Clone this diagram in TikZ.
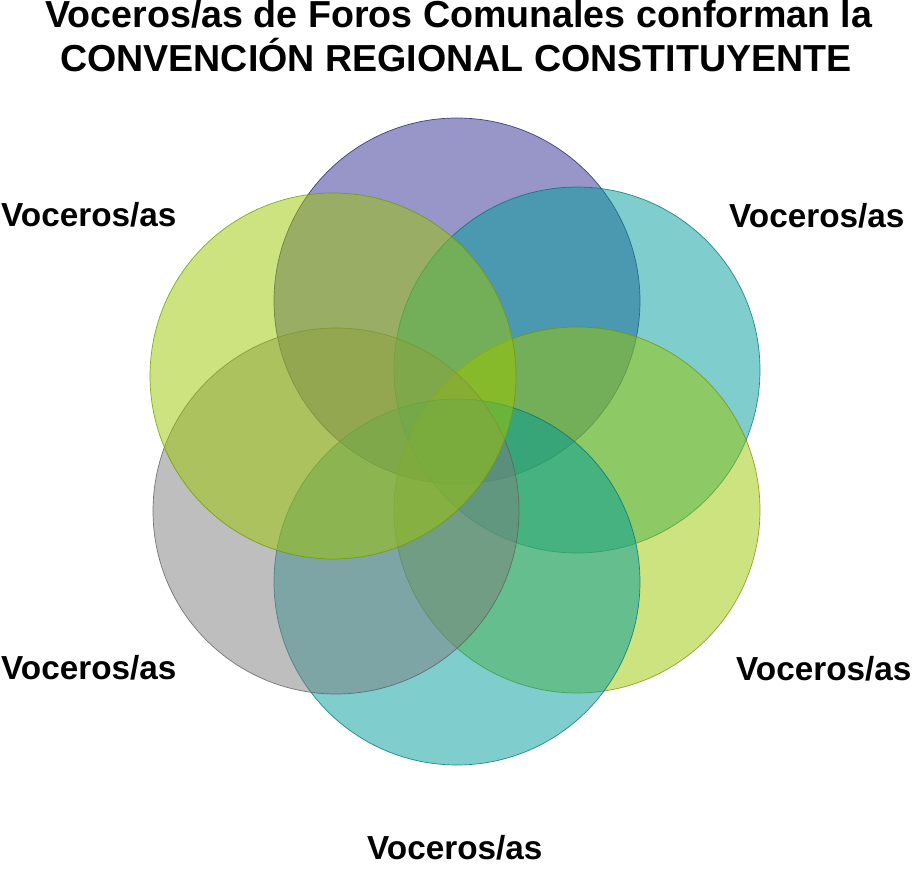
\documentclass[tikz,border=0pt]{standalone}
\usepackage{fontspec}
\setmainfont{Liberation Sans}
\definecolor{morado}{RGB}{49,45,145}
\definecolor{turquesa}{RGB}{0,155,155}
\definecolor{lima}{RGB}{155,199,1}
\definecolor{gris}{RGB}{125,125,125}
\tikzset{
	foro/.style={circle,minimum size=366pt,inner sep=0pt,fill=#1,fill opacity=0.5,draw=#1!75!black,draw opacity=0.8,line width=0.7pt},
	vocero/.style={anchor=base west,inner sep=0pt,font=\fontsize{33.3}{40}\selectfont\bfseries},
	titulo/.style={anchor=base,inner sep=0pt,font=\fontsize{37.6}{45}\selectfont\bfseries}
}
\begin{document}
\begin{tikzpicture}[x=1pt,y=-1pt]
	\useasboundingbox (0,0) rectangle (913,872);
	\node[titulo] (titulo1) at (459,28) {Voceros/as de Foros Comunales conforman la}; %标题
	\node[titulo] (titulo2) at (456,72) {CONVENCIÓN REGIONAL CONSTITUYENTE};
	\foreach \n/\x/\y/\c in {a/457/301/morado,b/577/370/turquesa,c/577/510/lima,d/457/582/turquesa,e/336/511/gris,f/333/376/lima}
	\node[foro=\c] (foro-\n) at (\x,\y) {}; %圆
	\node[vocero] (vocero-f) at (1,226) {Voceros/as};
	\node[vocero] (vocero-b) at (729,227) {Voceros/as};
	\node[vocero] (vocero-e) at (1,679) {Voceros/as};
	\node[vocero] (vocero-c) at (736,680) {Voceros/as};
	\node[vocero] (vocero-d) at (367,859) {Voceros/as};
\end{tikzpicture}
\end{document}
